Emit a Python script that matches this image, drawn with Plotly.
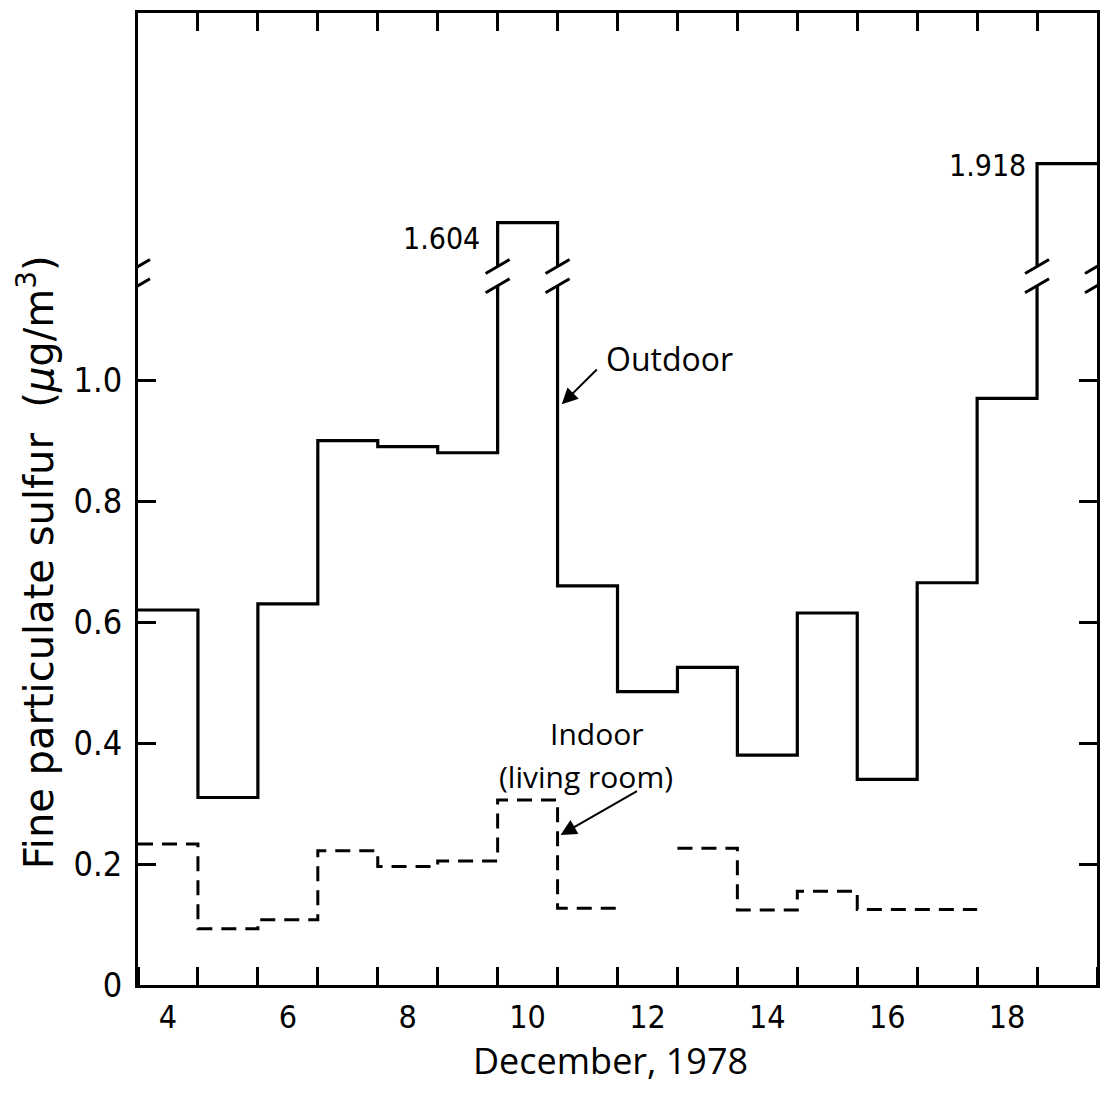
import plotly.graph_objects as go

# ---------------- data ----------------
days = [4, 5, 6, 7, 8, 9, 10, 11, 12, 13, 14, 15, 16, 17, 18, 19]
outdoor = [0.62, 0.31, 0.63, 0.90, 0.89, 0.88, 1.604, 0.66, 0.485, 0.525,
           0.38, 0.615, 0.34, 0.665, 0.97, 1.918]
indoor = [0.233, 0.093, 0.108, 0.222, 0.196, 0.205, 0.306, 0.127, None, 0.226,
          0.124, 0.155, 0.125, 0.125, None, None]
x_tick_vals = [4, 6, 8, 10, 12, 14, 16, 18]
x_tick_text = ["4", "6", "8", "10", "12", "14", "16", "18"]
y_tick_vals = [0, 0.2, 0.4, 0.6, 0.8, 1.0]
y_tick_text = ["0", "0.2", "0.4", "0.6", "0.8", "1.0"]
peak_labels = ["1.604", "1.918"]

# ---------------- broken-axis scale ----------------
BREAK_LO = 1.156
BREAK_HI = 1.188
UPPER_ORIGIN = 1.37
UPPER_K = 0.31
Y_TOP = 1.607


def disp(v):
    if v is None:
        return None
    if v > 1.15:
        return BREAK_HI + (v - UPPER_ORIGIN) * UPPER_K
    return v


def steps(ds, vals):
    xs, ys = [], []
    for d, v in zip(ds, vals):
        if v is None:
            if xs and xs[-1] is not None:
                xs.append(None)
                ys.append(None)
            continue
        xs += [d - 0.5, d + 0.5]
        ys += [disp(v), disp(v)]
    return xs, ys


ox, oy = steps(days, outdoor)
ix, iy = steps(days, indoor)

TXT = "Open Sans"
NUM = "DejaVu Sans Condensed, Roboto, sans-serif"

fig = go.Figure()
fig.add_trace(go.Scatter(x=ox, y=oy, mode="lines",
                         line=dict(color="black", width=3.2),
                         hoverinfo="skip", showlegend=False))
fig.add_trace(go.Scatter(x=ix, y=iy, mode="lines", connectgaps=False,
                         line=dict(color="black", width=3, dash="15px,9px"),
                         hoverinfo="skip", showlegend=False))
# invisible trace for the top axis
fig.add_trace(go.Scatter(x=[days[0]], y=[0], xaxis="x2", mode="markers",
                         marker=dict(opacity=0), hoverinfo="skip",
                         showlegend=False))

fig.update_layout(
    width=1112, height=1093,
    margin=dict(l=138, r=12, t=13, b=108),
    paper_bgcolor="white", plot_bgcolor="white",
    xaxis=dict(range=[3.5, 19.5], tickvals=x_tick_vals, ticktext=x_tick_text,
               ticks="", showgrid=False, zeroline=False,
               showline=True, linecolor="black", linewidth=3,
               ticklabelstandoff=2,
               tickfont=dict(family=NUM, size=32, color="black"),
               minor=dict(tick0=4.5, dtick=1, ticks="inside", ticklen=18,
                          tickwidth=3, tickcolor="black", showgrid=False)),
    xaxis2=dict(range=[3.5, 19.5], overlaying="x", side="top",
                tickmode="linear", tick0=4.5, dtick=1, ticks="inside",
                ticklen=18, tickwidth=3, tickcolor="black",
                showticklabels=False, showgrid=False, zeroline=False,
                showline=True, linecolor="black", linewidth=3),
    yaxis=dict(range=[0, Y_TOP], tickvals=y_tick_vals, ticktext=y_tick_text,
               ticks="inside", ticklen=18, tickwidth=3, tickcolor="black",
               showgrid=False, zeroline=False, showline=True,
               linecolor="black", linewidth=3, mirror="ticks",
               ticklabelstandoff=6,
               tickfont=dict(family=NUM, size=34, color="black")),
)

# break gaps (white) and slashes
break_xs = [3.5, 9.5, 10.5, 18.5, 19.5]
for bx in break_xs:
    fig.add_shape(type="rect", xref="x", yref="y", xsizemode="pixel",
                  xanchor=bx, x0=-5, x1=5, y0=BREAK_LO, y1=BREAK_HI,
                  fillcolor="white", line=dict(width=0), layer="above")
    for by in (BREAK_LO, BREAK_HI):
        fig.add_shape(type="line", xref="x", yref="y",
                      xsizemode="pixel", xanchor=bx,
                      ysizemode="pixel", yanchor=by,
                      x0=-12, x1=12, y0=-7, y1=7,
                      line=dict(color="black", width=3), layer="above")

# peak value labels
fig.add_annotation(x=8.57, y=1.235, text=peak_labels[0], showarrow=False,
                   font=dict(family=NUM, size=30, color="black"))
fig.add_annotation(x=17.68, y=1.355, text=peak_labels[1], showarrow=False,
                   font=dict(family=NUM, size=30, color="black"))

# Outdoor label + arrow
fig.add_annotation(x=11.27, y=1.036, text="Outdoor", showarrow=False,
                   xanchor="left", font=dict(family=TXT, size=32, color="black"))
fig.add_annotation(x=10.57, y=0.96, ax=11.18, ay=1.02, axref="x", ayref="y",
                   text="", showarrow=True, arrowhead=2, arrowsize=1.6,
                   arrowwidth=2, arrowcolor="black")

# Indoor label + arrow
fig.add_annotation(x=11.15, y=0.4165, text="Indoor",
                   showarrow=False, font=dict(family=TXT, size=30, color="black"))
fig.add_annotation(x=10.98, y=0.3455, text="(living room)",
                   showarrow=False, font=dict(family=TXT, size=30, color="black"))
fig.add_annotation(x=10.55, y=0.248, ax=11.85, ay=0.322, axref="x", ayref="y",
                   text="", showarrow=True, arrowhead=2, arrowsize=1.6,
                   arrowwidth=2, arrowcolor="black")

# axis titles
fig.add_annotation(xref="paper", yref="paper", x=(612 - 138) / 962,
                   y=-(1060 - 985) / 972, xanchor="center", yanchor="middle",
                   text="December, 1978", showarrow=False,
                   font=dict(family=TXT, size=36, color="black"))
fig.add_annotation(xref="paper", yref="paper", x=(36 - 138) / 962,
                   y=(985 - 562) / 972, textangle=-90,
                   xanchor="center", yanchor="middle",
                   text="Fine particulate sulfur&nbsp;&nbsp;(<i>μ</i>g/m<sup>3</sup>)",
                   showarrow=False,
                   font=dict(family="DejaVu Sans", size=40, color="black"))

fig.write_html("out.html")
